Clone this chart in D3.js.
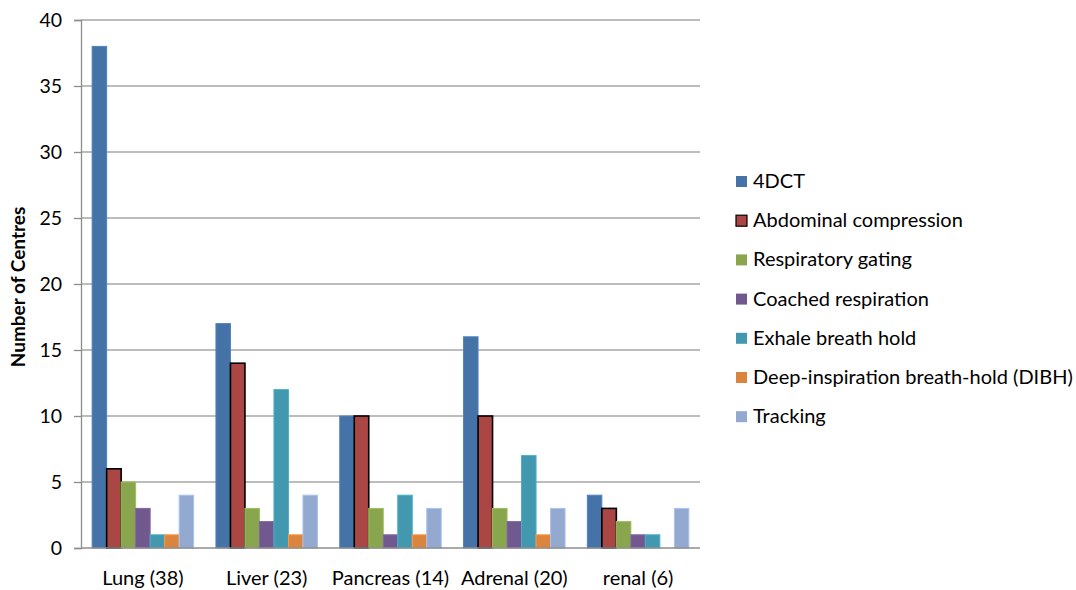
<!DOCTYPE html>
<html>
<head>
<meta charset="utf-8">
<script src="https://cdn.jsdelivr.net/npm/d3@7"></script>
<style>
  body { margin: 0; background: #fff; }
  svg text { font-family: Lato, "Open Sans", sans-serif; fill: #000; }
</style>
</head>
<body>
<svg id="chart" width="1076" height="590"></svg>
<script>
// Sites treated and the motion-management techniques reported per site
const categories = ["Lung (38)", "Liver (23)", "Pancreas (14)", "Adrenal (20)", "renal (6)"];
const seriesNames = [
  "4DCT",
  "Abdominal compression",
  "Respiratory gating",
  "Coached respiration",
  "Exhale breath hold",
  "Deep-inspiration breath-hold (DIBH)",
  "Tracking"
];
const seriesColors = ["#4572A7", "#AA4643", "#89A54E", "#71588F", "#4198AF", "#DB843D", "#93A9CF"];
// values[i][j]: series i, category j
const values = [
  [38, 17, 10, 16, 4],
  [6, 14, 10, 10, 3],
  [5, 3, 3, 3, 2],
  [3, 2, 1, 2, 1],
  [1, 12, 4, 7, 1],
  [1, 1, 1, 1, 0],
  [4, 4, 3, 3, 3]
];
const yTicks = [0, 5, 10, 15, 20, 25, 30, 35, 40];

const svg = d3.select("#chart");
const plotLeft = 81, plotRight = 700, plotTop = 20, plotBottom = 548;

const x0 = d3.scaleBand().domain(categories).range([plotLeft, plotRight]).paddingInner(0).paddingOuter(0);
const inner = x0.bandwidth() * 0.82;
const x1 = d3.scaleBand().domain(seriesNames).range([0, inner]).padding(0);
const y = d3.scaleLinear().domain([0, 40]).range([plotBottom, plotTop]);

// gridlines
svg.append("g")
  .selectAll("line")
  .data(yTicks.filter(t => t > 0))
  .join("line")
  .attr("x1", plotLeft).attr("x2", plotRight)
  .attr("y1", d => y(d)).attr("y2", d => y(d))
  .attr("stroke", "#a6a6a6").attr("stroke-width", 1.3);

// y axis
const yAxis = svg.append("g")
  .attr("transform", `translate(${plotLeft},0)`)
  .call(d3.axisLeft(y).tickValues(yTicks).tickSize(7).tickPadding(12));
yAxis.select(".domain").attr("stroke", "#8c8c8c").attr("stroke-width", 1.3);
yAxis.selectAll(".tick line").attr("stroke", "#8c8c8c").attr("stroke-width", 1.3);
yAxis.selectAll(".tick text").style("font-size", "19.5px").attr("fill", "#000");

// bars
const groupOffset = (x0.bandwidth() - inner) / 2;
seriesNames.forEach((name, i) => {
  svg.append("g")
    .selectAll("rect")
    .data(categories.map((c, j) => ({ c, v: values[i][j] })))
    .join("rect")
    .attr("x", d => x0(d.c) + groupOffset + x1(name))
    .attr("y", d => y(d.v))
    .attr("width", x1.bandwidth())
    .attr("height", d => y(0) - y(d.v))
    .attr("fill", seriesColors[i])
    .attr("stroke", i === 1 ? "#000" : d3.color(seriesColors[i]).brighter(0.4))
    .attr("stroke-width", i === 1 ? 1.6 : 1)
    .attr("display", d => d.v === 0 ? "none" : null);
});

// x axis baseline
svg.append("line")
  .attr("x1", plotLeft).attr("x2", plotRight)
  .attr("y1", plotBottom).attr("y2", plotBottom)
  .attr("stroke", "#8c8c8c").attr("stroke-width", 1.3);

// category labels
svg.append("g")
  .selectAll("text")
  .data(categories)
  .join("text")
  .attr("x", d => x0(d) + x0.bandwidth() / 2)
  .attr("y", 585)
  .attr("text-anchor", "middle")
  .style("font-size", "20px")
  .text(d => d);

// y axis title
svg.append("text")
  .attr("transform", `translate(25,287) rotate(-90)`)
  .attr("text-anchor", "middle")
  .style("font-size", "19px")
  .style("font-weight", "bold")
  .text("Number  of Centres");

// legend
const legend = svg.append("g")
  .selectAll("g")
  .data(seriesNames)
  .join("g")
  .attr("transform", (d, i) => `translate(736,${181 + i * 39.2})`);
legend.append("rect")
  .attr("x", 0).attr("y", -5)
  .attr("width", 11).attr("height", 11)
  .attr("fill", (d, i) => seriesColors[i])
  .attr("stroke", (d, i) => i === 1 ? "#000" : "none")
  .attr("stroke-width", 1.2);
legend.append("text")
  .attr("x", 17).attr("y", 7)
  .style("font-size", "20px")
  .text(d => d);
</script>
</body>
</html>
